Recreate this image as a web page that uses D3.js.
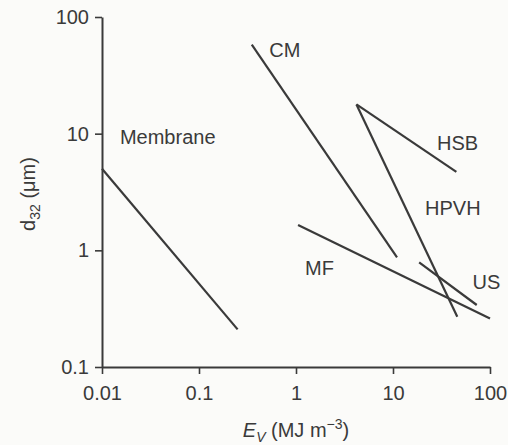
<!DOCTYPE html>
<html>
<head>
<meta charset="utf-8">
<script src="https://cdn.jsdelivr.net/npm/d3@7"></script>
<style>
  body { margin: 0; background: #fbfbf9; }
  svg text { font-family: "Liberation Sans", Arial, sans-serif; fill: #3a3a3a; }
</style>
</head>
<body>
<div id="chart"></div>
<script>
// d32 vs energy density, log-log, one straight segment per method
const methods = ["Membrane", "CM", "HSB", "HPVH", "MF", "US"];
const startE = [0.01, 0.35, 4.2, 4.2, 1.05, 18.6];
const startD = [5, 58, 17.8, 17.8, 1.65, 0.79];
const endE   = [0.25, 11, 45, 46, 100, 73];
const endD   = [0.21, 0.87, 4.7, 0.27, 0.26, 0.34];
// label anchor (left / baseline) in data units
const labelE = [0.0153, 0.53, 28.4, 21.4, 1.24, 66];
const labelD = [8.1, 45, 7.3, 2.0, 0.62, 0.47];

const xTicks = [0.01, 0.1, 1, 10, 100];
const yTicks = [0.1, 1, 10, 100];

const W = 508, H = 445;
const margin = {top: 17, right: 18, bottom: 78, left: 102};
const ink = "#3a3a3a";

const svg = d3.select("#chart").append("svg").attr("width", W).attr("height", H);

const x = d3.scaleLog().domain([0.01, 100]).range([margin.left, W - margin.right]);
const y = d3.scaleLog().domain([0.1, 100]).range([H - margin.bottom, margin.top]);

const fmt = d => d >= 1 ? String(d) : String(d);

// Axes
const gx = svg.append("g").attr("transform", "translate(0," + (H - margin.bottom) + ")")
  .call(d3.axisBottom(x).tickValues(xTicks).tickFormat(fmt).tickSize(7).tickSizeOuter(0).tickPadding(12));
const gy = svg.append("g").attr("transform", "translate(" + margin.left + ",0)")
  .call(d3.axisLeft(y).tickValues(yTicks).tickFormat(fmt).tickSize(7).tickSizeOuter(0).tickPadding(6));

[gx, gy].forEach(g => {
  g.select(".domain").attr("stroke", ink).attr("stroke-width", 2);
  g.selectAll(".tick line").attr("stroke", ink).attr("stroke-width", 1.6);
  g.selectAll(".tick text").attr("font-size", 20).attr("fill", ink)
    .style("font-family", "'Liberation Sans', Arial, sans-serif");
});

// Segments
const segs = methods.map((m, i) => ({name: m, x1: startE[i], y1: startD[i], x2: endE[i], y2: endD[i], lx: labelE[i], ly: labelD[i]}));

svg.append("g").selectAll("line").data(segs).enter().append("line")
  .attr("x1", d => x(d.x1)).attr("y1", d => y(d.y1))
  .attr("x2", d => x(d.x2)).attr("y2", d => y(d.y2))
  .attr("stroke", ink).attr("stroke-width", 2.2).attr("stroke-linecap", "butt");

svg.append("g").selectAll("text").data(segs).enter().append("text")
  .attr("x", d => x(d.lx)).attr("y", d => y(d.ly))
  .attr("font-size", 20).text(d => d.name);

// Axis titles
const yt = svg.append("text")
  .attr("transform", "translate(35," + (margin.top + (H - margin.bottom - margin.top) / 2 + 2) + ") rotate(-90)")
  .attr("text-anchor", "middle").attr("font-size", 20);
yt.append("tspan").text("d");
yt.append("tspan").attr("font-size", 14).attr("dy", 5).text("32");
yt.append("tspan").attr("dy", -5).text(" (\u03bcm)");

const xt = svg.append("text")
  .attr("x", (margin.left + W - margin.right) / 2).attr("y", 437)
  .attr("text-anchor", "middle").attr("font-size", 20);
xt.append("tspan").attr("font-style", "italic").text("E");
xt.append("tspan").attr("font-style", "italic").attr("font-size", 14).attr("dy", 5).text("V");
xt.append("tspan").attr("dy", -5).text(" (MJ m");
xt.append("tspan").attr("font-size", 14).attr("dy", -8).text("\u22123");
xt.append("tspan").attr("dy", 8).text(")");
</script>
</body>
</html>
